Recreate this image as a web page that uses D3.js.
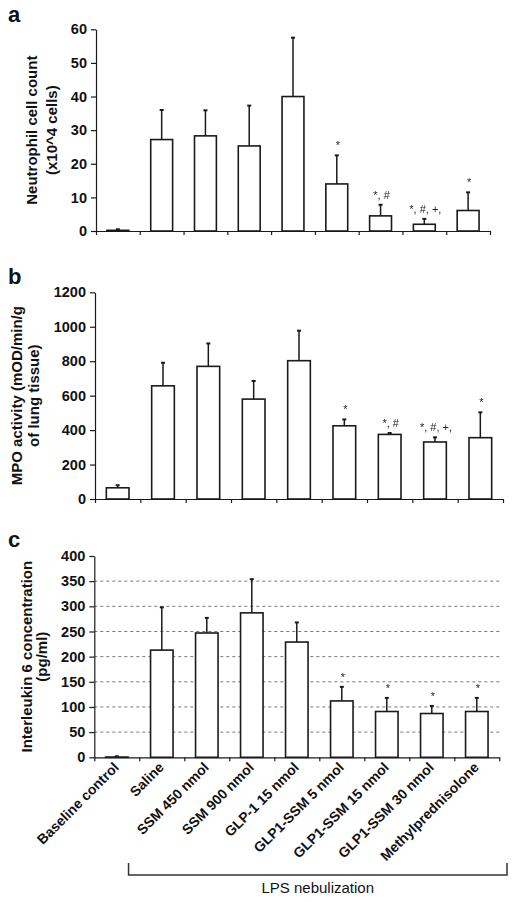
<!DOCTYPE html>
<html>
<head>
<meta charset="utf-8">
<script src="https://cdn.jsdelivr.net/npm/d3@7"></script>
<style>
  html, body { margin: 0; padding: 0; background: #fff; }
  svg { display: block; }
  text { font-family: "Liberation Sans", Arial, sans-serif; fill: #111; }
  .sig { opacity: 0.99; will-change: transform; }
</style>
</head>
<body>
<svg id="chart" width="517" height="902"></svg>
<script>
// ---------------- DATA ----------------
const categories = ["Baseline control", "Saline", "SSM 450 nmol", "SSM 900 nmol", "GLP-1 15 nmol",
  "GLP1-SSM 5 nmol", "GLP1-SSM 15 nmol", "GLP1-SSM 30 nmol", "Methylprednisolone"];

const neutrophilMean = [0.2, 27.2, 28.3, 25.3, 40.0, 14.0, 4.5, 2.0, 6.1];
const neutrophilErr  = [0.3, 8.8, 7.6, 12.0, 17.5, 8.5, 3.3, 1.6, 5.4];
const neutrophilSig  = ["", "", "", "", "", "*", "*, #", "*, #, +,", "*"];
const neutrophilTicks = [0, 10, 20, 30, 40, 50, 60];

const mpoMean = [65, 657, 770, 580, 803, 425, 375, 331, 356];
const mpoErr  = [15, 134, 133, 105, 174, 37, 8, 27, 147];
const mpoSig  = ["", "", "", "", "", "*", "*, #", "*, #, +,", "*"];
const mpoTicks = [0, 200, 400, 600, 800, 1000, 1200];

const il6Mean = [0.5, 213, 247, 287, 229, 112, 91, 87, 91];
const il6Err  = [1.5, 85, 30, 67, 39, 28, 27, 15, 27];
const il6Sig  = ["", "", "", "", "", "*", "*", "*", "*"];
const il6Ticks = [0, 50, 100, 150, 200, 250, 300, 350, 400];

const groupLabel = "LPS nebulization";

// ---------------- DRAW ----------------
const svg = d3.select("#chart");
const ink = "#1a1a1a";

function panel(cfg) {
  const g = svg.append("g");
  const x = d3.scaleBand().domain(categories).range([cfg.left, cfg.right])
    .paddingInner(0.5).paddingOuter(0.25);
  const y = d3.scaleLinear().domain([0, cfg.max]).range([cfg.bottom, cfg.top]);

  // gridlines
  if (cfg.grid) {
    g.append("g").selectAll("line").data(cfg.ticks.filter(t => t > 0 && t < cfg.max)).join("line")
      .attr("x1", cfg.left).attr("x2", cfg.right)
      .attr("y1", d => y(d)).attr("y2", d => y(d))
      .attr("stroke", "#777").attr("stroke-width", 1).attr("stroke-dasharray", "3,3");
  }

  // y axis
  const ya = g.append("g").attr("transform", `translate(${cfg.left},0)`)
    .call(d3.axisLeft(y).tickValues(cfg.ticks).tickFormat(d3.format("d"))
      .tickSize(5).tickSizeOuter(0).tickPadding(4));
  ya.select(".domain").attr("stroke", ink).attr("stroke-width", 1.2);
  ya.selectAll(".tick line").attr("stroke", ink).attr("stroke-width", 1.2);
  ya.selectAll(".tick text").attr("font-size", 14.5).attr("font-weight", "bold")
    .attr("font-family", "Liberation Sans, Arial, sans-serif").attr("fill", "#111");

  // x axis (category separators)
  const xi = d3.scaleLinear().domain([0, categories.length]).range([cfg.left, cfg.right]);
  const xa = g.append("g").attr("transform", `translate(0,${cfg.bottom})`)
    .call(d3.axisBottom(xi).tickValues(d3.range(categories.length + 1)).tickFormat("")
      .tickSize(4).tickSizeOuter(0));
  xa.select(".domain").attr("stroke", ink).attr("stroke-width", 1.2);
  xa.selectAll(".tick line").attr("stroke", ink).attr("stroke-width", 1.2);

  const rows = categories.map((c, i) => ({ c, m: cfg.mean[i], e: cfg.err[i], s: cfg.sig[i] }));

  // bars
  g.append("g").selectAll("rect").data(rows).join("rect")
    .attr("x", d => x(d.c)).attr("width", x.bandwidth())
    .attr("y", d => y(d.m)).attr("height", d => y(0) - y(d.m))
    .attr("fill", "#fff").attr("stroke", ink).attr("stroke-width", 1.6);

  // error bars
  const eb = g.append("g");
  eb.selectAll("line.v").data(rows).join("line").attr("class", "v")
    .attr("x1", d => x(d.c) + x.bandwidth() / 2).attr("x2", d => x(d.c) + x.bandwidth() / 2)
    .attr("y1", d => y(d.m)).attr("y2", d => y(d.m + d.e))
    .attr("stroke", ink).attr("stroke-width", 1.5);
  eb.selectAll("line.c").data(rows).join("line").attr("class", "c")
    .attr("x1", d => x(d.c) + x.bandwidth() / 2 - 2).attr("x2", d => x(d.c) + x.bandwidth() / 2 + 2)
    .attr("y1", d => y(d.m + d.e)).attr("y2", d => y(d.m + d.e))
    .attr("stroke", ink).attr("stroke-width", 2);

  // significance marks
  g.append("g").attr("class", "sig").selectAll("text").data(rows.filter(d => d.s)).join("text")
    .attr("x", d => x(d.c) + x.bandwidth() / 2 + 1)
    .attr("y", d => y(d.m + d.e) - 6)
    .attr("text-anchor", "middle").attr("font-size", 11)
    .style("fill", "#222").text(d => d.s);

  // panel letter
  g.append("text").attr("x", 8).attr("y", cfg.letterY).attr("font-size", 22)
    .attr("font-weight", "bold").text(cfg.letter);

  // y title
  const cy = (cfg.top + cfg.bottom) / 2;
  cfg.title.forEach((t, i) => {
    g.append("text").attr("transform", `translate(${cfg.titleX[i]},${cy}) rotate(-90)`)
      .attr("text-anchor", "middle").attr("font-size", 15).attr("font-weight", "bold").text(t);
  });

  // x labels
  if (cfg.xlabels) {
    g.append("g").selectAll("text").data(categories).join("text")
      .attr("transform", d => `translate(${x(d) + x.bandwidth() / 2 + 3},${cfg.bottom + 11}) rotate(-45)`)
      .attr("text-anchor", "end").attr("font-size", 14).attr("font-weight", "bold").text(d => d);
  }
  return { x, y };
}

panel({ left: 96, right: 490, top: 29.3, bottom: 231, max: 60, ticks: neutrophilTicks,
  mean: neutrophilMean, err: neutrophilErr, sig: neutrophilSig, grid: false,
  letter: "a", letterY: 22, title: ["Neutrophil cell count", "(x10^4 cells)"], titleX: [37, 57] });

panel({ left: 95, right: 503, top: 292.3, bottom: 499, max: 1200, ticks: mpoTicks,
  mean: mpoMean, err: mpoErr, sig: mpoSig, grid: false,
  letter: "b", letterY: 284, title: ["MPO activity (mOD/min/g", "of lung tissue)"], titleX: [22, 39] });

const pc = panel({ left: 94.3, right: 499.3, top: 556, bottom: 757.3, max: 400, ticks: il6Ticks,
  mean: il6Mean, err: il6Err, sig: il6Sig, grid: true, xlabels: true,
  letter: "c", letterY: 547, title: ["Interleukin 6 concentration", "(pg/ml)"], titleX: [32, 47] });

// LPS bracket
const bx0 = pc.x(categories[1]) - 22, bx1 = 507, by = 875;
svg.append("path")
  .attr("d", `M${bx0},${by - 12}V${by}H${bx1}V${by - 12}`)
  .attr("fill", "none").attr("stroke", "#333").attr("stroke-width", 1.5);
svg.append("text").attr("x", (bx0 + bx1) / 2).attr("y", 893).attr("text-anchor", "middle")
  .attr("font-size", 15).text(groupLabel);
</script>
</body>
</html>
